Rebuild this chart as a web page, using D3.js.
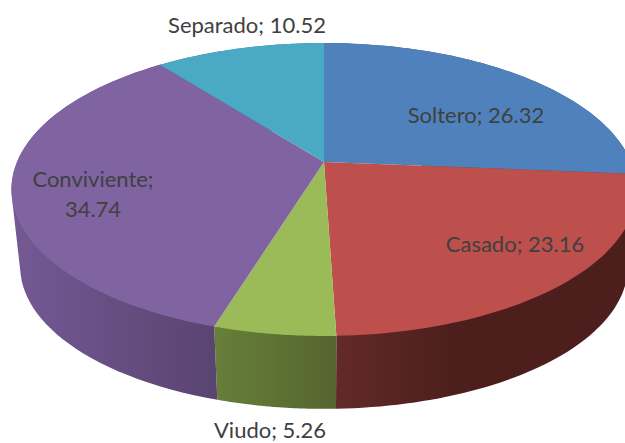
<!DOCTYPE html>
<html>
<head>
<meta charset="utf-8">
<script src="https://cdn.jsdelivr.net/npm/d3@7"></script>
<style>
  html, body { margin: 0; padding: 0; background: #fff; }
  svg { display: block; overflow: hidden; }
  text { font-family: Lato, "Open Sans", sans-serif; font-size: 22px; fill: #404040; text-anchor: middle; }
</style>
</head>
<body>
<div id="chart"></div>
<script>
const categories = ["Soltero", "Casado", "Viudo", "Conviviente", "Separado"];
const values = [26.32, 23.16, 5.26, 34.74, 10.52];
const valueLabels = ["26.32", "23.16", "5.26", "34.74", "10.52"];

// styling and layout, kept apart from the data
const topColors = ["#4f81bd", "#bd4f4c", "#9bbb59", "#8063a1", "#4aa9c4"];
const wallColors = [
  ["#33547a", "#33547a"],
  ["#622a28", "#4c1f1d"],
  ["#667f39", "#55652f"],
  ["#745994", "#5a4470"],
  ["#2f6e80", "#2f6e80"],
];
const labelSpots = [[476, 115], [515, 244], [270, 430], [93, 179], [247, 25]];

const width = 625;
const height = 443;

// tilted disc: unit circle to screen through a perspective divide
const cx = 324, cy = 162, rx = 307, ry = 141.3, k = 0.1877;
// the bottom rim shrinks toward a vanishing point below the pie
const vanishY = 2940, bottomScale = 0.972;

function rim(angle) {
  const u = Math.sin(angle), v = -Math.cos(angle), w = 1 - k * v;
  return [cx + (rx * u) / w, cy + (ry * v) / w];
}
function lowerRim(angle) {
  const [x, y] = rim(angle);
  return [cx + (x - cx) * bottomScale, vanishY + (y - vanishY) * bottomScale];
}
const sweep = (d) => d3.range(0, 61).map((i) => d.startAngle + ((d.endAngle - d.startAngle) * i) / 60);

const pie = d3.pie().sort(null).value((d) => d);
const slices = pie(values);
const line = d3.line();

const svg = d3.select("#chart").append("svg")
  .attr("width", width)
  .attr("height", height)
  .attr("viewBox", [0, 0, width, height]);

const defs = svg.append("defs");
defs.selectAll("linearGradient")
  .data(slices)
  .join("linearGradient")
  .attr("id", (d, i) => `wall-${i}`)
  .attr("gradientUnits", "userSpaceOnUse")
  .each(function (d, i) {
    const xs = sweep(d).map((a) => rim(a)[0]);
    let [x1, x2] = d3.extent(xs);
    // red only darkens over its first stretch, then stays flat
    if (i === 1) x2 = x1 + 115;
    d3.select(this).attr("x1", x1).attr("x2", x2).attr("y1", 0).attr("y2", 0);
    d3.select(this).selectAll("stop")
      .data(wallColors[i])
      .join("stop")
      .attr("offset", (_, j) => j)
      .attr("stop-color", (c) => c);
  });

// hull, because a strip along the rim folds over itself at the silhouette
svg.append("g").selectAll("path")
  .data(slices)
  .join("path")
  .attr("fill", (d, i) => `url(#wall-${i})`)
  .attr("d", (d) => {
    const angles = sweep(d);
    return line(d3.polygonHull([...angles.map(rim), ...angles.map(lowerRim)])) + "Z";
  });

svg.append("g").selectAll("path")
  .data(slices)
  .join("path")
  .attr("fill", (d, i) => topColors[i])
  .attr("d", (d) => line([[cx, cy], ...sweep(d).map(rim)]) + "Z");

const labels = svg.append("g").selectAll("text")
  .data(categories)
  .join("text")
  .attr("transform", (d, i) => `translate(${labelSpots[i]})`)
  .attr("dy", "0.35em");

labels.each(function (name, i) {
  const el = d3.select(this);
  if (name === "Conviviente") {
    el.append("tspan").attr("x", 0).text(`${name};`);
    el.append("tspan").attr("x", 0).attr("dy", 30).text(valueLabels[i]);
  } else {
    el.text(`${name}; ${valueLabels[i]}`);
  }
});
</script>
</body>
</html>
